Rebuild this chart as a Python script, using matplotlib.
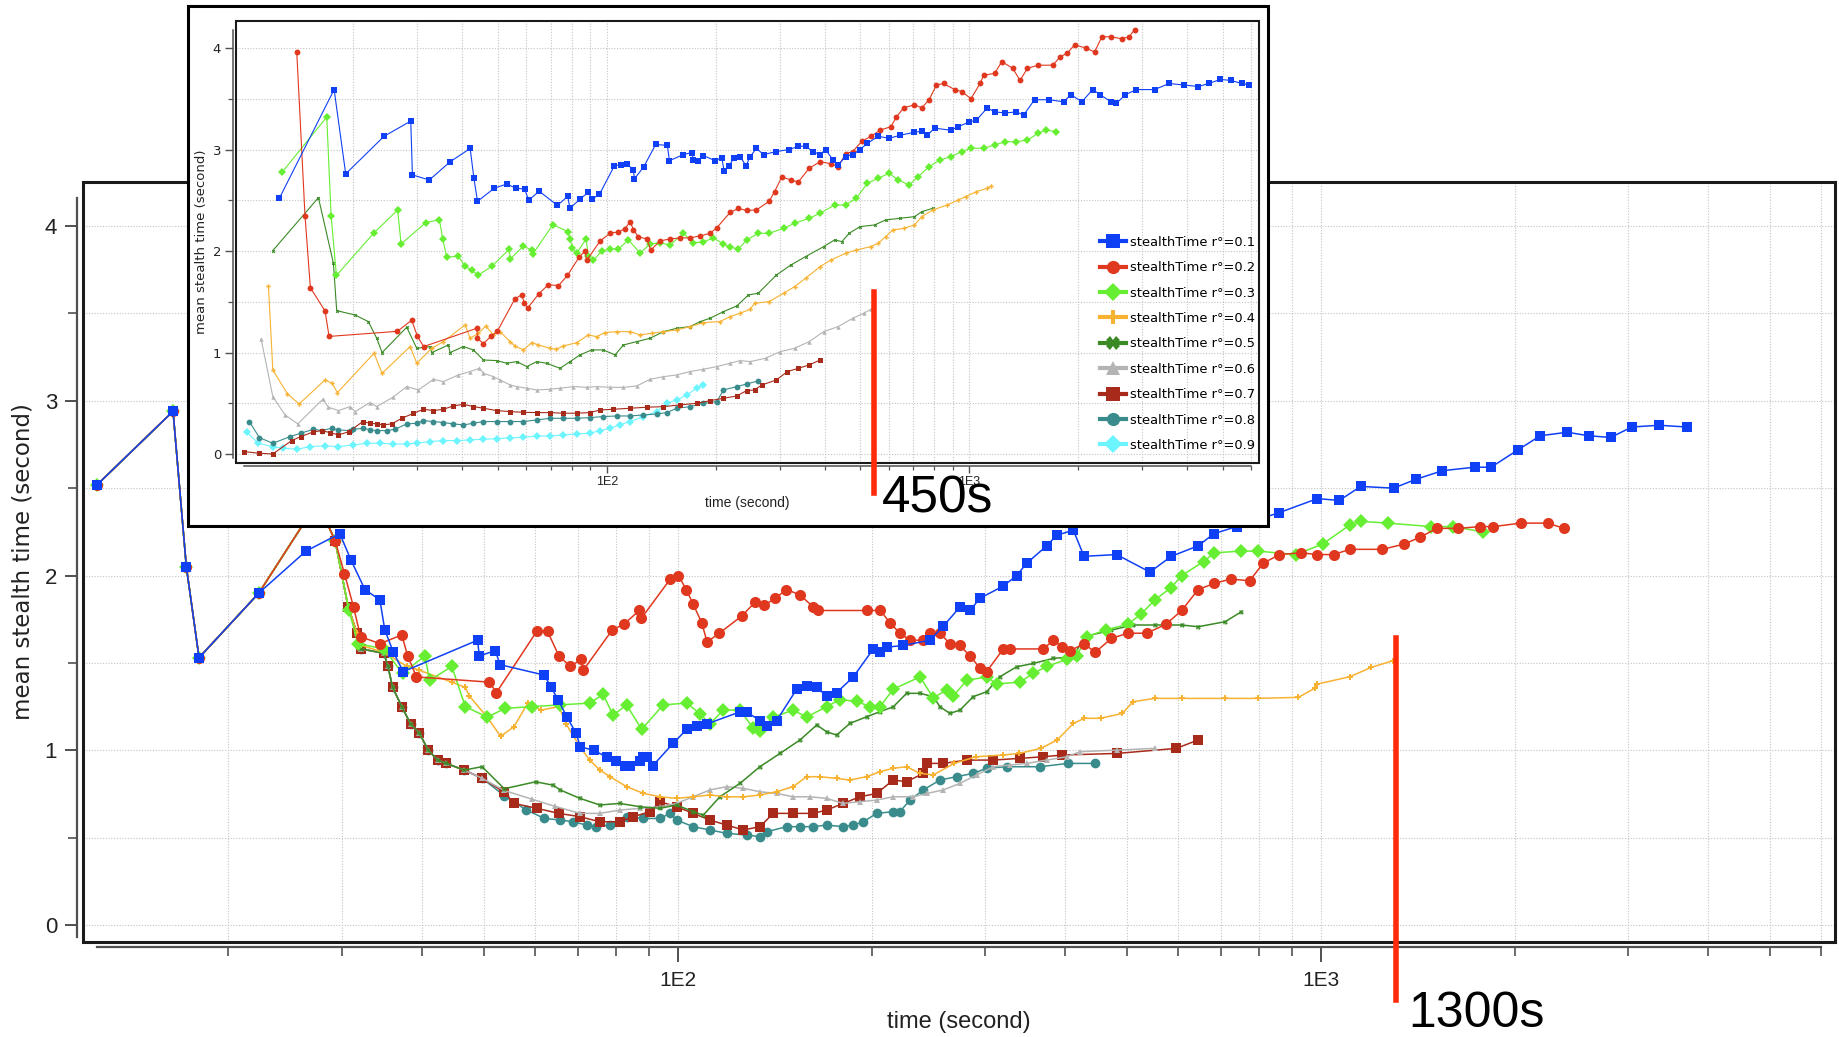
import numpy as np
import matplotlib
matplotlib.use("Agg")
import matplotlib.pyplot as plt
from matplotlib.lines import Line2D
from matplotlib.patches import Rectangle

# series styling, r° = 0.1 ... 0.9
ratios = ['0.1', '0.2', '0.3', '0.4', '0.5', '0.6', '0.7', '0.8', '0.9']
colors = ['#1040f5', '#e0381e', '#66ee33', '#f7b231', '#3a8a25',
          '#b4b4b4', '#a82a1a', '#3a8c8c', '#6cf4ff']
markers = ['s', 'o', 'D', 'P', 'X', '^', 's', 'o', 'D']

# ---------------- main chart (large, background) ----------------
main_t01 = [12.5, 16.4, 17.2, 18.0, 22.3, 26.4, 29.8, 31.0, 32.6, 34.4, 35.0, 36.1, 37.4, 48.8, 49.1,
            52.0, 52.9, 62.0, 63.5, 65.1, 67.2, 69.4, 70.5, 74.0, 77.6, 80.1, 82.7, 84.2, 87.3, 88.2,
            89.4, 91.3, 98.3, 103.2, 106.9, 110.8, 124.9, 127.9, 134.1, 137.4, 142.4, 153, 158.5,
            164.4, 170.3, 176.5, 187.4, 201.3, 206.2, 211.2, 224.1, 246.6, 258.6, 274.5, 284.5,
            294.9, 320.6, 336.3, 348.5, 374.5, 388, 412, 428, 481, 542, 585, 644, 682, 739, 861,
            987, 1068, 1153, 1297, 1403, 1545, 1734, 1839, 2026, 2193, 2415, 2607, 2820, 3045,
            3354, 3704]
main_v01 = [2.52, 2.94, 2.05, 1.53, 1.90, 2.14, 2.24, 2.09, 1.92, 1.86, 1.69, 1.56, 1.45, 1.63, 1.54,
            1.57, 1.49, 1.43, 1.36, 1.29, 1.19, 1.10, 1.02, 1.00, 0.96, 0.94, 0.91, 0.91, 0.94, 0.96,
            0.96, 0.91, 1.04, 1.12, 1.14, 1.15, 1.22, 1.22, 1.17, 1.14, 1.17, 1.35, 1.37, 1.36,
            1.31, 1.33, 1.42, 1.58, 1.56, 1.59, 1.60, 1.63, 1.71, 1.82, 1.80, 1.87, 1.94, 2.00,
            2.07, 2.17, 2.23, 2.26, 2.11, 2.12, 2.02, 2.11, 2.17, 2.24, 2.28, 2.36, 2.44, 2.43,
            2.51, 2.50, 2.55, 2.60, 2.62, 2.62, 2.72, 2.80, 2.82, 2.80, 2.79, 2.85, 2.86, 2.85]

# common start of the r°>=0.2 runs, and the common drop of r°=0.5..0.8
main_head_t = [12.5, 16.4, 17.2, 18.0, 22.3, 27.5, 29.3]
main_head_v = [2.52, 2.94, 2.05, 1.53, 1.90, 2.42, 2.20]
main_drop_t = [30.7, 31.7, 32.2, 34.9, 35.4, 36.0, 37.2, 38.4, 39.6, 40.9, 42.3, 43.6, 46.5]
main_drop_v = [1.82, 1.67, 1.58, 1.555, 1.48, 1.36, 1.25, 1.15, 1.10, 1.00, 0.944, 0.925, 0.887]

main_t02 = [30.3, 31.3, 32.1, 34.4, 37.2, 38.0, 39.2, 50.9, 52.2, 60.3, 62.7, 65.3, 68.0, 70.7, 71.3,
            79.1, 82.3, 87.1, 87.7, 97.3, 100.2, 103, 105.5, 108.9, 111, 116, 125.8, 132, 136.2,
            141.7, 147.5, 154.7, 162.4, 165.1, 196.8, 206.5, 213.6, 221.4, 229.5, 240.7, 246.6,
            255.6, 264.8, 274.5, 284.5, 294.9, 302, 320.6, 328.4, 370, 383.5, 396.3, 407, 428.5,
            445.4, 472, 500.3, 535.5, 573.3, 607.4, 644, 682.8, 723.5, 774.5, 812.8, 861.6, 931.2,
            986.8, 1046, 1109, 1246, 1347, 1427, 1513, 1635, 1766, 1854, 2044, 2252, 2387]
main_v02 = [2.01, 1.82, 1.65, 1.61, 1.66, 1.54, 1.42, 1.39, 1.33, 1.68, 1.68, 1.54, 1.48, 1.52, 1.46,
            1.69, 1.72, 1.80, 1.755, 1.98, 2.00, 1.92, 1.84, 1.73, 1.62, 1.67, 1.77, 1.85, 1.83,
            1.87, 1.92, 1.89, 1.82, 1.80, 1.80, 1.80, 1.73, 1.67, 1.63, 1.63, 1.67, 1.67, 1.61,
            1.60, 1.54, 1.47, 1.45, 1.58, 1.58, 1.58, 1.63, 1.59, 1.57, 1.61, 1.56, 1.64, 1.67,
            1.67, 1.72, 1.80, 1.92, 1.955, 1.98, 1.97, 2.07, 2.12, 2.13, 2.12, 2.12, 2.15, 2.15,
            2.18, 2.22, 2.27, 2.27, 2.28, 2.28, 2.30, 2.30, 2.27]

main_t03 = [30.8, 31.8, 34.9, 37.3, 40.4, 41.1, 44.5, 46.7, 50.5, 53.9, 59.3, 65.6, 72.9, 76.5, 79.3,
            83.2, 87.8, 94.9, 103.2, 108.2, 112.1, 117.6, 124.9, 131, 134.1, 140.7, 151.1, 158.5,
            170.3, 178.6, 189.6, 198.9, 206.2, 216.2, 237.9, 249.5, 261.7, 268.1, 281.1, 302, 313,
            340.3, 356.9, 374.5, 402.4, 416.9, 432.6, 463.1, 500.3, 525.3, 551.2, 584.5, 607.4,
            656.6, 682.8, 752.1, 797.3, 913.3, 1006, 1109, 1153, 1270, 1484, 1603, 1785]
main_v03 = [1.80, 1.61, 1.58, 1.44, 1.54, 1.40, 1.48, 1.25, 1.19, 1.24, 1.25, 1.26, 1.27, 1.32, 1.20,
            1.26, 1.12, 1.26, 1.27, 1.21, 1.15, 1.23, 1.23, 1.125, 1.11, 1.19, 1.23, 1.19, 1.25,
            1.29, 1.28, 1.25, 1.25, 1.35, 1.42, 1.30, 1.345, 1.31, 1.40, 1.42, 1.38, 1.39, 1.44,
            1.48, 1.52, 1.54, 1.65, 1.69, 1.72, 1.78, 1.86, 1.93, 2.00, 2.08, 2.13, 2.14, 2.14,
            2.12, 2.18, 2.29, 2.31, 2.30, 2.28, 2.28, 2.25]

main_t04 = [30.7, 31.7, 32.2, 34.9, 37.9, 39.5, 44.5, 46.7, 47.4, 50.5, 53.0, 55.6, 58.4, 61.3, 65.3,
            67.0, 70.4, 72.9, 75.6, 78.4, 83.2, 88.3, 93.8, 99.5, 105.6, 112.1, 119.1, 126.4, 134.1,
            142.4, 151.1, 158.5, 166.3, 176.5, 185.1, 196.6, 206.2, 216.2, 226.8, 237.9, 249.5,
            268.9, 290.6, 320.2, 339.4, 366.8, 388.8, 412.1, 428.5, 454.1, 490.8, 510.4, 551.2,
            607.4, 709.6, 797.3, 922.2, 977.3, 986.8, 1109, 1198, 1295]
main_v04 = [1.82, 1.67, 1.60, 1.56, 1.48, 1.46, 1.39, 1.36, 1.31, 1.19, 1.08, 1.135, 1.27, 1.23, 1.25,
            1.15, 1.02, 0.944, 0.887, 0.849, 0.792, 0.754, 0.734, 0.725, 0.734, 0.744, 0.734, 0.734,
            0.744, 0.763, 0.792, 0.849, 0.849, 0.839, 0.830, 0.849, 0.878, 0.897, 0.906, 0.868,
            0.859, 0.925, 0.963, 0.973, 0.982, 1.011, 1.059, 1.154, 1.183, 1.183, 1.211, 1.278,
            1.297, 1.297, 1.297, 1.297, 1.303, 1.354, 1.379, 1.421, 1.475, 1.513]

main_t05 = [49.6, 53.7, 60.1, 64.0, 65.6, 70.4, 75.6, 81.2, 87.3, 93.8, 99.5, 105.6, 109.5, 116.2,
            124.9, 134.1, 144.1, 154.8, 164.4, 170.3, 176.5, 185.1, 196.6, 206.2, 216.2, 226.8,
            237.9, 249.5, 255.6, 264.8, 274.5, 287.9, 302, 316.8, 336.3, 356.9, 383.5, 412, 428.5,
            472, 510.4, 551.2, 607.4, 644, 709.6, 752.1]
main_v05 = [0.906, 0.78, 0.82, 0.80, 0.773, 0.725, 0.687, 0.696, 0.677, 0.668, 0.687, 0.649, 0.629,
            0.734, 0.811, 0.906, 0.982, 1.059, 1.145, 1.106, 1.087, 1.154, 1.192, 1.221, 1.249,
            1.326, 1.326, 1.307, 1.249, 1.211, 1.230, 1.307, 1.335, 1.421, 1.478, 1.497, 1.526,
            1.535, 1.65, 1.688, 1.717, 1.717, 1.717, 1.707, 1.736, 1.793]

main_t06 = [49.6, 53.7, 59.3, 64.3, 70.4, 75.6, 81.2, 87.3, 93.8, 99.5, 105.6, 112.1, 119.1, 126.4,
            134.1, 142.4, 151.1, 160.4, 170.3, 180.7, 191.9, 203.7, 216.2, 232.3, 243.6, 258.6,
            274.5, 291.4, 309.3, 328.4, 348.5, 374.5, 402.4, 421.9, 481.3, 551.2]
main_v06 = [0.84, 0.77, 0.72, 0.68, 0.639, 0.639, 0.658, 0.668, 0.677, 0.696, 0.734, 0.773, 0.792,
            0.782, 0.763, 0.753, 0.734, 0.734, 0.725, 0.696, 0.706, 0.715, 0.734, 0.734, 0.753,
            0.773, 0.811, 0.859, 0.906, 0.916, 0.925, 0.944, 0.963, 0.992, 1.001, 1.011]

main_t07 = [49.6, 53.7, 55.6, 60.3, 65.3, 70.4, 75.6, 81.2, 85.2, 90.5, 93.8, 99.5, 105.6, 112.1,
            119.1, 126.4, 134.1, 140.7, 151.1, 162.4, 170.3, 180.7, 191.9, 203.7, 216.2, 226.8,
            240.7, 243.6, 258.6, 281.1, 309.3, 340.3, 370, 396.3, 481.3, 595.9, 644]
main_v07 = [0.84, 0.76, 0.696, 0.668, 0.639, 0.620, 0.591, 0.591, 0.620, 0.649, 0.706, 0.677, 0.639,
            0.601, 0.572, 0.544, 0.563, 0.639, 0.639, 0.639, 0.658, 0.696, 0.734, 0.753, 0.830,
            0.820, 0.868, 0.925, 0.925, 0.944, 0.944, 0.954, 0.963, 0.973, 0.982, 1.011, 1.059]

main_t08 = [49.6, 53.7, 58.0, 62.0, 65.6, 68.7, 72.1, 74.7, 78.4, 83.2, 88.3, 93.8, 97.2, 99.5, 105.6,
            112.1, 119.1, 127.9, 134.1, 137.4, 147.6, 154.8, 162.4, 170.3, 180.7, 187.4, 194.2,
            203.7, 216.2, 221.4, 229.5, 240.7, 255.6, 271.3, 287.9, 302, 324.5, 365.6, 404.3, 445.4]
main_v08 = [0.84, 0.74, 0.66, 0.61, 0.601, 0.591, 0.572, 0.563, 0.572, 0.620, 0.610, 0.610, 0.639,
            0.601, 0.563, 0.544, 0.525, 0.515, 0.506, 0.534, 0.563, 0.563, 0.563, 0.572, 0.563,
            0.572, 0.591, 0.639, 0.649, 0.649, 0.715, 0.773, 0.830, 0.849, 0.868, 0.897, 0.906,
            0.906, 0.925, 0.925]

# ---------------- inset chart ----------------
ins_t01 = [12.5, 17.7, 19.05, 24.3, 28.8, 29.1, 32.4, 37.0, 42.0, 43.0, 44.0, 49.0, 53.0, 56.1, 59.4,
           60.9, 65.1, 73.1, 78.1, 79.1, 84.3, 89.0, 91.1, 95.5, 105, 109.3, 113.5, 118.5, 119.2,
           126.5, 136.5, 147, 148.9, 162.8, 171.6, 173.4, 179, 184.8, 199, 207.6, 210.8, 217.6,
           224.5, 233.3, 242.3, 248.5, 258.8, 270.9, 293.9, 318.7, 337.6, 353.6, 370.2, 387.7,
           401.5, 420.3, 435.2, 455.9, 477.1, 499.7, 523.4, 561, 601, 644, 706, 739.6, 766, 802,
           890, 932.6, 999, 1047, 1122, 1175, 1259, 1350, 1413, 1514, 1661, 1821, 1908, 2045,
           2191, 2296, 2460, 2547, 2698, 2893, 3245, 3560, 3903, 4282, 4589, 4919, 5272, 5649, 5918]
ins_v01 = [2.52, 3.59, 2.76, 3.13, 3.28, 2.75, 2.70, 2.88, 3.01, 2.72, 2.49, 2.62, 2.66, 2.62, 2.61,
           2.50, 2.59, 2.45, 2.54, 2.42, 2.51, 2.58, 2.51, 2.56, 2.84, 2.85, 2.86, 2.80, 2.71,
           2.83, 3.05, 3.04, 2.89, 2.95, 2.97, 2.90, 2.89, 2.94, 2.89, 2.92, 2.79, 2.84,
           2.92, 2.93, 2.84, 2.93, 3.01, 2.95, 2.98, 3.00, 3.03, 3.035, 2.98, 2.95,
           3.00, 2.90, 2.85, 2.93, 2.95, 3.00, 3.06, 3.13, 3.11, 3.14, 3.17, 3.18, 3.14, 3.21,
           3.19, 3.225, 3.27, 3.29, 3.41, 3.37, 3.36, 3.37, 3.34, 3.49, 3.49, 3.47, 3.54, 3.47,
           3.59, 3.54, 3.47, 3.455, 3.54, 3.59, 3.59, 3.65, 3.635, 3.62, 3.65, 3.69, 3.68, 3.65, 3.635]

ins_t02 = [13.96, 14.71, 15.22, 16.71, 17.14, 26.45, 28.97, 30.05, 31.26, 43.8, 44.0, 45.7, 47.9, 49.9,
           55.8, 58.3, 59.2, 60.5, 65.0, 69.0, 73.6, 77.9, 83.9, 87.1, 88.1, 95.9, 102.1, 107.7,
           112.3, 116, 118.5, 122.3, 128.9, 132.3, 140.3, 149.5, 159.4, 169.8, 181, 192.8, 201.2,
           218.9, 230.8, 243.3, 258.8, 280.5, 290.4, 304.1, 322.4, 337.6, 361.8, 387.7, 415.5,
           435.2, 455.9, 477.1, 505.4, 535.5, 567.5, 608.1, 629.7, 659.2, 706.3, 739.8, 775, 812,
           850, 911, 954, 1011, 1071, 1096, 1175, 1230, 1318, 1381, 1447, 1550, 1700, 1780, 1865,
           1952, 2094, 2217, 2322, 2460, 2636, 2761, 2858]
ins_v02 = [3.96, 2.35, 1.64, 1.41, 1.16, 1.21, 1.32, 1.16, 1.06, 1.24, 1.14, 1.09, 1.16, 1.21,
           1.53, 1.57, 1.49, 1.44, 1.58, 1.67, 1.66, 1.76, 1.94, 2.00, 1.91, 2.10, 2.175, 2.19,
           2.22, 2.29, 2.21, 2.14, 2.12, 2.01, 2.10, 2.12, 2.13, 2.13, 2.15, 2.175, 2.23,
           2.38, 2.42, 2.40, 2.405, 2.49, 2.585, 2.73, 2.70, 2.68, 2.815, 2.88, 2.86,
           2.83, 2.96, 2.98, 3.08, 3.13, 3.19, 3.225, 3.32, 3.41, 3.44, 3.41, 3.49, 3.635,
           3.65, 3.59, 3.57, 3.50, 3.65, 3.73, 3.75, 3.865, 3.80, 3.68, 3.80, 3.83, 3.83, 3.91, 3.95,
           4.03, 4.00, 3.96, 4.11, 4.11, 4.09, 4.11, 4.18]

ins_t03 = [12.74, 16.89, 17.36, 17.96, 22.81, 26.5, 27.08, 31.68, 34.54, 35.28, 36.19, 38.97, 40.66,
           42.42, 44.26, 48.17, 53.9, 54.1, 58.9, 62.1, 62.5, 71.0, 78.4, 79.2, 80.4, 82.7, 87.7,
           89.0, 91.9, 96.9, 102.1, 107.7, 114.8, 123.6, 131.7, 140.3, 149.5, 162.8, 173.4, 184.8,
           197, 209.9, 218.9, 230.8, 243.3, 261.8, 280.5, 307.6, 329.7, 361.8, 387.7, 425, 455.9,
           488.3, 523.4, 561, 601, 637, 682.8, 723.3, 775, 830.6, 890, 954, 1011, 1096, 1175,
           1259, 1350, 1447, 1550, 1624, 1740]
ins_v03 = [2.78, 3.32, 2.35, 1.76, 2.18, 2.405, 2.07, 2.28, 2.31, 2.12, 1.94, 1.95, 1.85,
           1.81, 1.765, 1.85, 2.02, 1.92, 2.05, 2.01, 1.97, 2.26, 2.19, 2.12, 2.03, 1.98, 2.12,
           1.95, 1.91, 2.00, 2.02, 2.02, 2.11, 1.98, 2.07, 2.08, 2.06, 2.175, 2.08, 2.09,
           2.13, 2.07, 2.04, 2.02, 2.11, 2.175, 2.175, 2.224, 2.274, 2.323, 2.372, 2.454, 2.454,
           2.52, 2.667, 2.717, 2.766, 2.70, 2.651, 2.733, 2.831, 2.897, 2.93, 2.979, 3.012, 3.012,
           3.045, 3.077, 3.077, 3.094, 3.159, 3.192, 3.176]

ins_t04 = [11.66, 11.99, 13.16, 14.17, 16.71, 17.47, 18.07, 22.81, 24.0, 28.68, 29.92, 32.9, 35.43,
           40.66, 42.0, 44.26, 46.4, 48.7, 50.8, 54.1, 55.85, 58.9, 62.1, 64.8, 69.8, 72.5, 75.9,
           82.7, 89.0, 93.8, 98.9, 106.6, 116, 123.6, 133.1, 143.4, 156.1, 169.8, 184.8, 205.4,
           218.9, 233.3, 248.6, 255.7, 280.5, 307.6, 329.7, 353.6, 387.7, 415.5, 455.9, 488.3,
           535.5, 561, 587.6, 615.2, 659.2, 706.3, 739.8, 793, 870, 932.6, 977, 1047, 1122, 1148]
ins_v04 = [1.66, 0.83, 0.594, 0.495, 0.732, 0.699, 0.607, 0.994, 0.797, 1.06, 0.896, 1.043, 1.109,
           1.273, 1.142, 1.191, 1.263, 1.175, 1.207, 1.109, 1.066, 1.027, 1.099, 1.076, 1.043,
           1.033, 1.066, 1.099, 1.175, 1.158, 1.198, 1.207, 1.207, 1.175, 1.191, 1.207, 1.224,
           1.257, 1.296, 1.306, 1.355, 1.388, 1.427, 1.486, 1.503, 1.585, 1.650, 1.732, 1.847,
           1.913, 1.978, 2.011, 2.044, 2.077, 2.142, 2.208, 2.224, 2.257, 2.339, 2.405, 2.454,
           2.503, 2.536, 2.585, 2.618, 2.641]

ins_t05 = [11.99, 16.02, 17.62, 17.99, 20.21, 22.0, 23.2, 24.0, 28.07, 29.92, 32.55, 32.9, 36.57,
           36.96, 40.23, 42.87, 45.7, 49.7, 53.0, 56.45, 60.2, 64.1, 68.3, 74.3, 79.2, 84.4, 90.9,
           97.9, 105.4, 111.2, 121, 131.7, 143.4, 156.1, 169.8, 181, 192.8, 209.9, 228.4, 246,
           261.8, 293.9, 322.4, 353.6, 396.6, 425, 445.3, 466.4, 499.7, 548, 587.6, 644, 706.3,
           739.8, 793]
ins_v05 = [2.005, 2.526, 1.88, 1.414, 1.371, 1.306, 1.142, 1.001, 1.25, 1.043, 1.06, 1.001, 1.076,
           1.001, 1.06, 1.027, 0.928, 0.922, 0.896, 0.912, 0.863, 0.912, 0.896, 0.846, 0.912,
           0.978, 1.027, 1.027, 0.978, 1.076, 1.109, 1.142, 1.207, 1.24, 1.257, 1.306, 1.339,
           1.404, 1.46, 1.568, 1.585, 1.765, 1.864, 1.946, 2.044, 2.110, 2.093, 2.175, 2.241,
           2.257, 2.306, 2.323, 2.339, 2.388, 2.421]

ins_t06 = [11.13, 11.99, 12.96, 14.05, 16.47, 17.07, 18.19, 19.59, 20.21, 22.24, 23.2, 25.7, 28.07,
           30.24, 33.27, 35.43, 38.97, 42.0, 44.53, 45.7, 48.7, 50.8, 54.1, 56.45, 60.2, 64.1,
           69.8, 74.3, 80.9, 88.1, 93.8, 102.1, 111.2, 121, 131.7, 143.4, 156.1, 169.8, 184.8,
           201.2, 218.9, 233.3, 248.6, 274.2, 300.7, 329.7, 361.8, 396.6, 435.2, 477.1, 511.3, 535.5]
ins_v06 = [1.135, 0.568, 0.387, 0.299, 0.541, 0.463, 0.43, 0.469, 0.42, 0.509, 0.469, 0.561, 0.666,
           0.633, 0.738, 0.715, 0.781, 0.814, 0.846, 0.797, 0.764, 0.732, 0.682, 0.666, 0.65,
           0.633, 0.64, 0.65, 0.666, 0.659, 0.666, 0.659, 0.659, 0.672, 0.738, 0.764, 0.781,
           0.814, 0.837, 0.863, 0.896, 0.922, 0.912, 0.945, 1.010, 1.043, 1.109, 1.207, 1.257,
           1.339, 1.388, 1.427]

ins_t07 = [9.99, 11.01, 11.99, 13.52, 14.32, 15.51, 16.36, 17.25, 18.19, 19.46, 21.23, 22.24, 23.2,
           24.2, 25.5, 27.2, 29.3, 31.2, 33.27, 35.43, 37.76, 40.23, 42.87, 45.7, 49.7, 54.1, 58.9,
           64.1, 69.8, 75.9, 82.7, 89.9, 95.9, 104.3, 116, 128.9, 143.4, 159.4, 177.1, 192.8,
           209.9, 228.4, 243.3, 255.7, 267.8, 293.9, 315, 337.6, 361.8, 387.7]
ins_v07 = [0.026, 0.010, 0.003, 0.135, 0.174, 0.220, 0.233, 0.213, 0.190, 0.223, 0.322, 0.305,
           0.299, 0.289, 0.299, 0.354, 0.403, 0.443, 0.430, 0.443, 0.476, 0.492, 0.469, 0.453,
           0.430, 0.420, 0.413, 0.410, 0.410, 0.404, 0.404, 0.410, 0.436, 0.443, 0.453, 0.463,
           0.469, 0.486, 0.502, 0.528, 0.551, 0.574, 0.627, 0.633, 0.682, 0.732, 0.814, 0.846,
           0.879, 0.928]

ins_t08 = [10.33, 11.01, 11.99, 13.38, 14.32, 15.51, 16.36, 17.43, 18.19, 19.59, 20.0, 21.32, 22.24,
           23.2, 24.73, 26.07, 28.07, 29.92, 31.2, 33.27, 35.43, 37.76, 40.23, 42.87, 45.7, 49.7,
           54.1, 58.9, 64.1, 69.8, 75.9, 82.7, 89.9, 97.9, 106.6, 116, 126.2, 137.4, 146.4, 156.1,
           169.8, 184.8, 201.2, 209.9, 228.4, 243.3, 261.8]
ins_v08 = [0.322, 0.164, 0.108, 0.174, 0.207, 0.246, 0.233, 0.256, 0.240, 0.233, 0.246, 0.256,
           0.240, 0.233, 0.233, 0.246, 0.299, 0.305, 0.331, 0.322, 0.312, 0.299, 0.289, 0.305,
           0.322, 0.322, 0.322, 0.322, 0.338, 0.354, 0.354, 0.354, 0.361, 0.371, 0.377, 0.377,
           0.387, 0.397, 0.410, 0.453, 0.469, 0.502, 0.518, 0.633, 0.666, 0.692, 0.722]

ins_t09 = [10.16, 10.94, 11.99, 12.82, 13.96, 15.19, 16.71, 18.19, 20.0, 21.77, 23.7, 25.8, 28.07,
           29.92, 32.55, 35.43, 38.56, 42.0, 45.7, 49.7, 54.1, 58.9, 64.1, 69.8, 75.9, 82.7, 89.9,
           95.9, 102.1, 108.8, 116, 126.2, 137.4, 146.4, 156.1, 166.3, 177.1, 184.8]
ins_v09 = [0.217, 0.108, 0.075, 0.059, 0.049, 0.075, 0.082, 0.075, 0.092, 0.108, 0.108, 0.102,
           0.102, 0.108, 0.125, 0.135, 0.135, 0.141, 0.148, 0.154, 0.161, 0.167, 0.180, 0.180,
           0.190, 0.200, 0.207, 0.233, 0.256, 0.289, 0.322, 0.371, 0.420, 0.502, 0.535, 0.584,
           0.650, 0.682]

# annotations (time of the red markers)
mark_main, mark_main_label = 1310, '1300s'
mark_ins, mark_ins_label = 546, '450s'

main_series = [
    (main_t01, main_v01),
    (main_head_t + main_t02, main_head_v + main_v02),
    (main_head_t + main_t03, main_head_v + main_v03),
    (main_head_t + main_t04, main_head_v + main_v04),
    (main_head_t + main_drop_t + main_t05, main_head_v + main_drop_v + main_v05),
    (main_head_t + main_drop_t + main_t06, main_head_v + main_drop_v + main_v06),
    (main_head_t + main_drop_t + main_t07, main_head_v + main_drop_v + main_v07),
    (main_head_t + main_drop_t + main_t08, main_head_v + main_drop_v + main_v08),
]
ins_series = [(ins_t01, ins_v01), (ins_t02, ins_v02), (ins_t03, ins_v03),
              (ins_t04, ins_v04), (ins_t05, ins_v05), (ins_t06, ins_v06),
              (ins_t07, ins_v07), (ins_t08, ins_v08), (ins_t09, ins_v09)]

main_ms = [7.5, 8, 7, 4.2, 3.6, 4.8, 6.5, 7]
ins_ms = [4, 4.2, 3.8, 3.2, 2.5, 3.2, 3.6, 4.2, 3.8]

W, H = 1839, 1037
fig = plt.figure(figsize=(W / 100, H / 100), dpi=100)


def box(l, t, r, b):
    return [l / W, 1 - b / H, (r - l) / W, (b - t) / H]


def dress(a, ylim, xlo, ybounds, off, frame_lw, big):
    a.set_xscale('log')
    a.set_yticks([0, 1, 2, 3, 4])
    a.set_yticks([0.5, 1.5, 2.5, 3.5], minor=True)
    a.set_xticks([100, 1000], ['1E2', '1E3'])
    a.set_xticks([m * d for d in (10, 100, 1000) for m in range(2, 10)], minor=True)
    a.xaxis.set_minor_formatter(plt.NullFormatter())
    # limits after the ticks, set_xticks would widen them
    a.set_xlim(xlo, 6300)
    a.set_ylim(*ylim)
    a.grid(True, which='both', ls=(0, (1, 1.5)), lw=0.8, color='#c4c4c4')
    a.set_axisbelow(True)
    for s in ('top', 'right'):
        a.spines[s].set_visible(False)
    a.spines['left'].set_position(('outward', off[0]))
    a.spines['bottom'].set_position(('outward', off[1]))
    a.spines['left'].set_bounds(*ybounds)
    a.spines['bottom'].set_bounds(12.5 if big else 10, 6000)
    for s in ('left', 'bottom'):
        a.spines[s].set_color('#505050')
        a.spines[s].set_linewidth(1.6 if big else 1.1)
    a.add_patch(Rectangle((0, 0), 1, 1, transform=a.transAxes, fill=False,
                          lw=frame_lw, ec='#1a1a1a', clip_on=False, zorder=6))
    if big:
        a.tick_params(axis='y', which='major', length=8.8, width=1.4, pad=5.5, labelsize=16,
                      colors='#505050', labelcolor='#222222', labelfontfamily='Liberation Sans')
        a.tick_params(axis='y', which='minor', length=6.5, width=1.2, colors='#505050')
        a.tick_params(axis='x', which='major', length=10.5, width=1.4, pad=7, labelsize=15,
                      colors='#505050', labelcolor='#222222', labelfontfamily='Liberation Sans')
        a.tick_params(axis='x', which='minor', length=6.8, width=1.2, colors='#505050')
    else:
        a.tick_params(axis='y', which='major', length=5.5, width=1.0, pad=3, labelsize=9.5,
                      colors='#505050', labelcolor='#222222')
        a.tick_params(axis='y', which='minor', length=3.8, width=0.9, colors='#505050')
        a.tick_params(axis='x', which='major', length=5, width=1.0, pad=2.5, labelsize=9,
                      colors='#505050', labelcolor='#222222', labelfontfamily='Liberation Sans')
        a.tick_params(axis='x', which='minor', length=3.2, width=0.9, colors='#505050')


# main chart
ax = fig.add_axes(box(83, 182, 1835, 942))
ax.set_zorder(0)
dress(ax, (-0.097, 4.252), 11.88, (-0.07, 4.16), (4.3, 3.6), 2.2, True)
for i in range(len(main_series) - 1, -1, -1):
    t, v = main_series[i]
    ax.plot(t, v, color=colors[i], marker=markers[i], ms=main_ms[i], mew=0, lw=1.1)
ax.set_ylabel('mean stealth time (second)', fontsize=16.5, color='#222222')
ax.yaxis.label.set_va('center')
ax.yaxis.set_label_coords(-0.0342, 0.5)
ax.set_xlabel('time (second)', fontsize=17, color='#222222', family='Liberation Sans')
ax.xaxis.label.set_va('center')
ax.xaxis.set_label_coords(0.5, -0.105)
ax.plot([mark_main, mark_main], [-0.43, 1.64], color='#ff2a0a', lw=4, clip_on=False, zorder=8)
ax.text(1365, -0.584, mark_main_label, fontsize=36, family='Liberation Sans',
        va='baseline', ha='left', clip_on=False, zorder=8)

# white inset box over the main chart
fig.add_artist(Rectangle((188 / W, 1 - 526 / H), (1268 - 188) / W, (526 - 6) / H,
                         transform=fig.transFigure, facecolor='white', edgecolor='black',
                         lw=2.2, zorder=1))

ins = fig.add_axes(box(236, 21, 1259, 463))
ins.set_zorder(2)
dress(ins, (-0.086, 4.265), 9.49, (-0.04, 4.18), (2.2, 2.2), 1.5, False)
for i in range(len(ins_series) - 1, -1, -1):
    t, v = ins_series[i]
    ins.plot(t, v, color=colors[i], marker=markers[i], ms=ins_ms[i], mew=0, lw=0.8)
ins.set_ylabel('mean stealth time (second)', fontsize=9.5, color='#222222')
ins.yaxis.label.set_va('center')
ins.yaxis.set_label_coords(-0.0342, 0.5)
ins.set_xlabel('time (second)', fontsize=10, color='#222222', family='Liberation Sans')
ins.xaxis.label.set_va('center')
ins.xaxis.set_label_coords(0.5, -0.0905)
ins.plot([mark_ins, mark_ins], [-0.38, 1.60], color='#ff2a0a', lw=4, clip_on=False, zorder=8)
ins.text(575, -0.578, mark_ins_label, fontsize=37, family='Liberation Sans',
         va='baseline', ha='left', clip_on=False, zorder=8)

handles = [Line2D([], [], color=colors[i], marker=markers[i], lw=3, ms=9.5, mew=0)
           for i in range(len(ratios))]
ins.legend(handles, ['stealthTime r°=' + r for r in ratios], loc='lower right',
           bbox_to_anchor=(1255 / W, 1 - 452 / H), bbox_transform=fig.transFigure,
           frameon=False, fontsize=9.4, handlelength=2.0, handletextpad=0.3,
           labelspacing=0.95, borderpad=0, borderaxespad=0)

fig.savefig('out.png', dpi=100)
